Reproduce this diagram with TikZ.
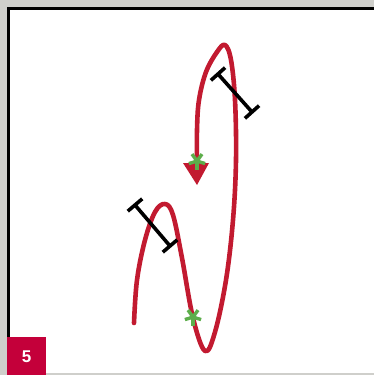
\documentclass[tikz,border=0pt]{standalone}
\usepackage{fontspec}
\setmainfont{Liberation Sans}
\definecolor{curvered}{HTML}{C21A30}
\definecolor{labelred}{HTML}{C4003A}
\definecolor{stargreen}{HTML}{5DAE4B}
\definecolor{bggray}{HTML}{CFCFCB}
\tikzset{
  pathline/.style={curvered, line width=4.6pt, line cap=round, line join=round},
  ibar/.style={black, line width=3.6pt},
  cross/.style={black, line width=3.6pt},
  star/.style={stargreen, line width=3.4pt},
}
\newcommand{\greenstar}[2]{%
  \foreach \a in {90,162,234,306,18}{
    \draw[star] (#1,#2) -- ++(\a:-8.5pt);
  }%
}
\newcommand{\idimbar}[4]{%
  \coordinate (ia) at (#1,#2);
  \coordinate (ib) at (#3,#4);
  \draw[ibar] (ia) -- (ib);
  \draw[cross] ($(ia)!9.5pt!90:(ib)$) -- ($(ia)!9.5pt!-90:(ib)$);
  \draw[cross] ($(ib)!9.5pt!90:(ia)$) -- ($(ib)!9.5pt!-90:(ia)$);
}
\usetikzlibrary{calc}
\begin{document}
\begin{tikzpicture}[x=1pt,y=-1pt]
\useasboundingbox (0,0) rectangle (374,375);
\fill[bggray] (0,0) rectangle (374,375);
\fill[white] (8,8) rectangle (374,373);
\draw[black, line width=3pt] (8,373) -- (8,8) -- (374,8);
% curve
\draw[pathline] plot[smooth, tension=0.6] coordinates {
  (134,323) (137,280) (145,240) (155,212) (165,204) (173,215) (182,258)
  (193,318) (205,351) (215,332) (226,280) (233,220) (236,160) (235,100)
  (231,60) (225,45) (217,52) (206,72) (199,100) (197,130) (197,166)};
\fill[curvered] (183,163) -- (209,163) -- (197,185) -- cycle;
% dimension bars
\idimbar{218}{74}{252}{112}
\idimbar{135}{205}{170}{246}
% stars
\greenstar{197}{161}
\greenstar{193}{317}
% label
\fill[labelred] (7,337) rectangle (46,375);
\node[text=white, font=\bfseries\fontsize{17}{17}\selectfont] (lbl) at (26.5,357) {5};
\end{tikzpicture}
\end{document}
